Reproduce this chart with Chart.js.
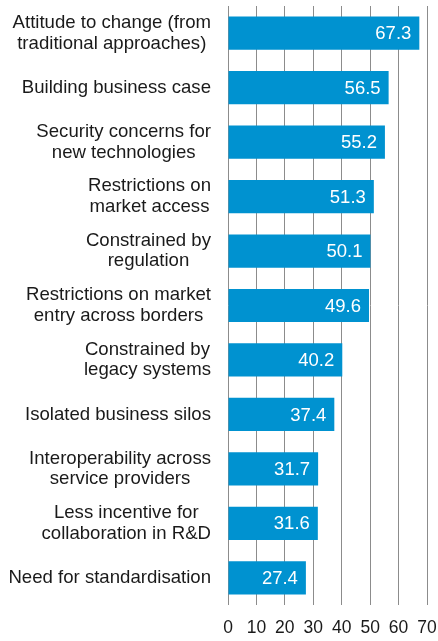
<!DOCTYPE html>
<html>
<head>
<meta charset="utf-8">
<script src="https://cdn.jsdelivr.net/npm/chart.js@4"></script>
<style>
  html, body { margin: 0; padding: 0; background: #fff; }
  canvas { display: block; }
</style>
</head>
<body>
<canvas id="myChart" width="438" height="641"></canvas>
<script>
const categories = [
  ["Attitude to change (from", "traditional approaches)"],
  ["Building business case"],
  ["Security concerns for", "new technologies"],
  ["Restrictions on", "market access"],
  ["Constrained by", "regulation"],
  ["Restrictions on market", "entry across borders"],
  ["Constrained by", "legacy systems"],
  ["Isolated business silos"],
  ["Interoperability across", "service providers"],
  ["Less incentive for", "collaboration in R&D"],
  ["Need for standardisation"],
];
const values = [67.3, 56.5, 55.2, 51.3, 50.1, 49.6, 40.2, 37.4, 31.7, 31.6, 27.4];
const xTicks = [0, 10, 20, 30, 40, 50, 60, 70];

const FONT = "'Liberation Sans', Arial, sans-serif";
const BLUE = "#0092d0";
const GRID = "#8c8c8c";

// category labels: block right-aligned, lines centred inside the block
const categoryLabels = {
  id: "categoryLabels",
  afterDraw(chart) {
    const ctx = chart.ctx;
    const y = chart.scales.y;
    const right = 211;
    ctx.save();
    ctx.font = "18.6px " + FONT;
    ctx.fillStyle = "#1a1a1a";
    ctx.textAlign = "center";
    ctx.textBaseline = "middle";
    categories.forEach((lines, i) => {
      const maxW = Math.max(...lines.map((l) => ctx.measureText(l).width));
      const cx = right - maxW / 2;
      const cy = y.getPixelForTick(i);
      lines.forEach((line, j) => {
        ctx.fillText(line, cx, cy + (j - (lines.length - 1) / 2) * 20.5);
      });
    });
    ctx.restore();
  },
};

// white value labels at the end of each bar
const valueLabels = {
  id: "valueLabels",
  afterDatasetsDraw(chart) {
    const ctx = chart.ctx;
    const meta = chart.getDatasetMeta(0);
    ctx.save();
    ctx.font = "18.5px " + FONT;
    ctx.fillStyle = "#ffffff";
    ctx.textAlign = "right";
    ctx.textBaseline = "middle";
    meta.data.forEach((bar, i) => {
      ctx.fillText(values[i].toFixed(1), bar.x - 8, bar.y + 1);
    });
    ctx.restore();
  },
};

const ctx = document.getElementById("myChart").getContext("2d");
new Chart(ctx, {
  type: "bar",
  data: {
    labels: categories.map((c) => c.join(" ")),
    datasets: [
      {
        data: values,
        backgroundColor: BLUE,
        borderWidth: 0,
        categoryPercentage: 1,
        barPercentage: 0.61,
      },
    ],
  },
  options: {
    indexAxis: "y",
    responsive: false,
    animation: false,
    layout: {
      padding: { top: 6, right: 11, left: 0, bottom: 0 },
    },
    plugins: {
      legend: { display: false },
      tooltip: { enabled: false },
    },
    scales: {
      x: {
        min: 0,
        max: 70,
        afterBuildTicks(scale) {
          scale.ticks = xTicks.map((v) => ({ value: v }));
        },
        afterFit(scale) {
          scale.height = 36;
          scale.paddingLeft = 0;
          scale.paddingRight = 0;
        },
        grid: {
          color: GRID,
          lineWidth: 1,
          drawTicks: false,
        },
        border: { display: false },
        ticks: {
          padding: 13,
          color: "#1a1a1a",
          font: { family: FONT, size: 17.5 },
          maxRotation: 0,
        },
      },
      y: {
        afterFit(scale) {
          scale.width = 228;
        },
        grid: { display: false },
        border: { display: false },
        ticks: { display: false },
      },
    },
  },
  plugins: [categoryLabels, valueLabels],
});
</script>
</body>
</html>
